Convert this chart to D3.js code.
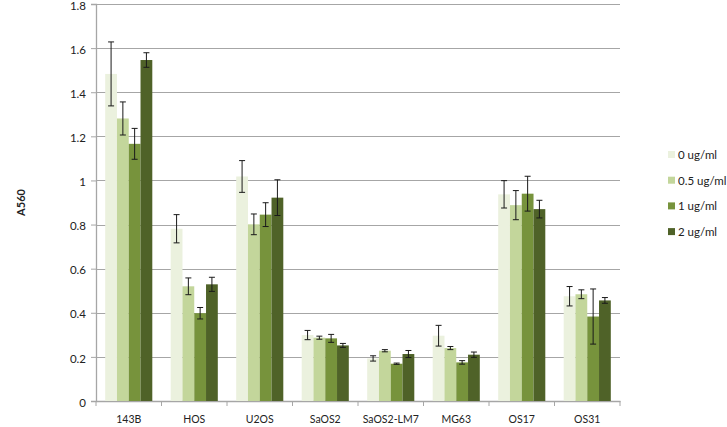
<!DOCTYPE html>
<html>
<head>
<meta charset="utf-8">
<script src="https://cdn.jsdelivr.net/npm/d3@7"></script>
<style>
  html, body { margin: 0; padding: 0; background: #fff; }
  svg { display: block; font-family: Lato, "Open Sans", sans-serif; }
</style>
</head>
<body>
<svg id="chart" width="727" height="427"></svg>
<script>
// data
const categories = ["143B", "HOS", "U2OS", "SaOS2", "SaOS2-LM7", "MG63", "OS17", "OS31"];
const series = ["0 ug/ml", "0.5 ug/ml", "1 ug/ml", "2 ug/ml"];
const colors = ["#EBF1DE", "#C3D69B", "#77933C", "#4F6228"];

const v0 = [1.483, 0.781, 1.018, 0.299, 0.193, 0.296, 0.937, 0.475];
const v05 = [1.281, 0.520, 0.801, 0.287, 0.228, 0.240, 0.888, 0.484];
const v1 = [1.166, 0.398, 0.845, 0.284, 0.169, 0.175, 0.940, 0.383];
const v2 = [1.546, 0.529, 0.922, 0.252, 0.213, 0.210, 0.870, 0.456];

const e0 = [0.145, 0.064, 0.072, 0.021, 0.012, 0.047, 0.062, 0.044];
const e05 = [0.075, 0.038, 0.047, 0.007, 0.005, 0.007, 0.066, 0.020];
const e1 = [0.070, 0.026, 0.054, 0.018, 0.003, 0.008, 0.079, 0.125];
const e2 = [0.033, 0.032, 0.081, 0.009, 0.016, 0.012, 0.040, 0.013];

const yTicks = [0, 0.2, 0.4, 0.6, 0.8, 1, 1.2, 1.4, 1.6, 1.8];

const values = [v0, v05, v1, v2];
const errors = [e0, e05, e1, e2];

const svg = d3.select("#chart");
const margin = { top: 4, right: 107, bottom: 26, left: 96 };
const W = 727, H = 427;
const w = W - margin.left - margin.right;
const h = H - margin.top - margin.bottom;
const g = svg.append("g").attr("transform", `translate(${margin.left},${margin.top})`);

const x0 = d3.scaleBand().domain(categories).range([0, w]).padding(0);
const x1 = d3.scaleBand().domain(series)
  .range([9.2, x0.bandwidth() - 9.2]).padding(0);
const y = d3.scaleLinear().domain([0, 1.8]).range([h, 0]);

// gridlines
g.append("g").selectAll("line").data(yTicks.filter(d => d > 0)).join("line")
  .attr("x1", 0).attr("x2", w)
  .attr("y1", d => Math.round(y(d)) + 0.5).attr("y2", d => Math.round(y(d)) + 0.5)
  .attr("stroke", "#a6a6a6").attr("stroke-width", 1);

// y axis
const yAxis = g.append("g")
  .call(d3.axisLeft(y).tickValues(yTicks).tickSize(5).tickPadding(5).tickFormat(d3.format("~g")));
yAxis.select(".domain").attr("stroke", "#a6a6a6").attr("stroke-width", 1.3);
yAxis.selectAll(".tick line").attr("stroke", "#a6a6a6");
yAxis.selectAll(".tick text").attr("fill", "#222").attr("dy", "0.45em")
  .style("font-size", "11.5px").style("font-family", "Lato, sans-serif");

// x axis
const xAxis = g.append("g").attr("transform", `translate(0,${h})`)
  .call(d3.axisBottom(x0).tickSize(0).tickPadding(15));
xAxis.select(".domain").attr("stroke", "#a6a6a6").attr("stroke-width", 1.3);
xAxis.selectAll(".tick text").attr("fill", "#222").style("font-size", "10.5px")
  .style("font-family", "Lato, sans-serif");
// category separators
g.append("g").selectAll("line").data(d3.range(categories.length + 1)).join("line")
  .attr("x1", i => i * x0.bandwidth()).attr("x2", i => i * x0.bandwidth())
  .attr("y1", h).attr("y2", h + 5)
  .attr("stroke", "#a6a6a6");

// bars
const groups = g.append("g").selectAll("g").data(categories).join("g")
  .attr("transform", c => `translate(${x0(c)},0)`);

groups.selectAll("rect")
  .data((c, i) => series.map((s, k) => ({ s, k, v: values[k][i], e: errors[k][i] })))
  .join("rect")
  .attr("x", d => x1(d.s))
  .attr("width", x1.bandwidth())
  .attr("y", d => y(d.v))
  .attr("height", d => h - y(d.v))
  .attr("fill", d => colors[d.k]);

// error bars
const eb = groups.selectAll("g.err")
  .data((c, i) => series.map((s, k) => ({ s, k, v: values[k][i], e: errors[k][i] })))
  .join("g").attr("class", "err")
  .attr("stroke", "#1a1a1a").attr("stroke-width", 1);
const cx = d => x1(d.s) + x1.bandwidth() / 2;
eb.append("line")
  .attr("x1", cx).attr("x2", cx)
  .attr("y1", d => y(d.v + d.e)).attr("y2", d => y(d.v - d.e));
eb.append("line")
  .attr("x1", d => cx(d) - 3).attr("x2", d => cx(d) + 3)
  .attr("y1", d => y(d.v + d.e)).attr("y2", d => y(d.v + d.e));
eb.append("line")
  .attr("x1", d => cx(d) - 3).attr("x2", d => cx(d) + 3)
  .attr("y1", d => y(d.v - d.e)).attr("y2", d => y(d.v - d.e));

// y label
svg.append("text")
  .attr("transform", `translate(25,${margin.top + h / 2}) rotate(-90)`)
  .attr("text-anchor", "middle")
  .style("font-size", "11px").style("font-weight", "bold")
  .attr("fill", "#222")
  .text("A560");

// legend
const legend = svg.append("g").attr("transform", "translate(668,155)");
const li = legend.selectAll("g").data(series).join("g")
  .attr("transform", (d, i) => `translate(0,${i * 25.7})`);
li.append("rect").attr("x", 0).attr("y", -4).attr("width", 7).attr("height", 7)
  .attr("fill", (d, i) => colors[i]);
li.append("text").attr("x", 10).attr("y", 0).attr("dy", "0.35em")
  .style("font-size", "11.5px").attr("fill", "#222")
  .text(d => d);
</script>
</body>
</html>
